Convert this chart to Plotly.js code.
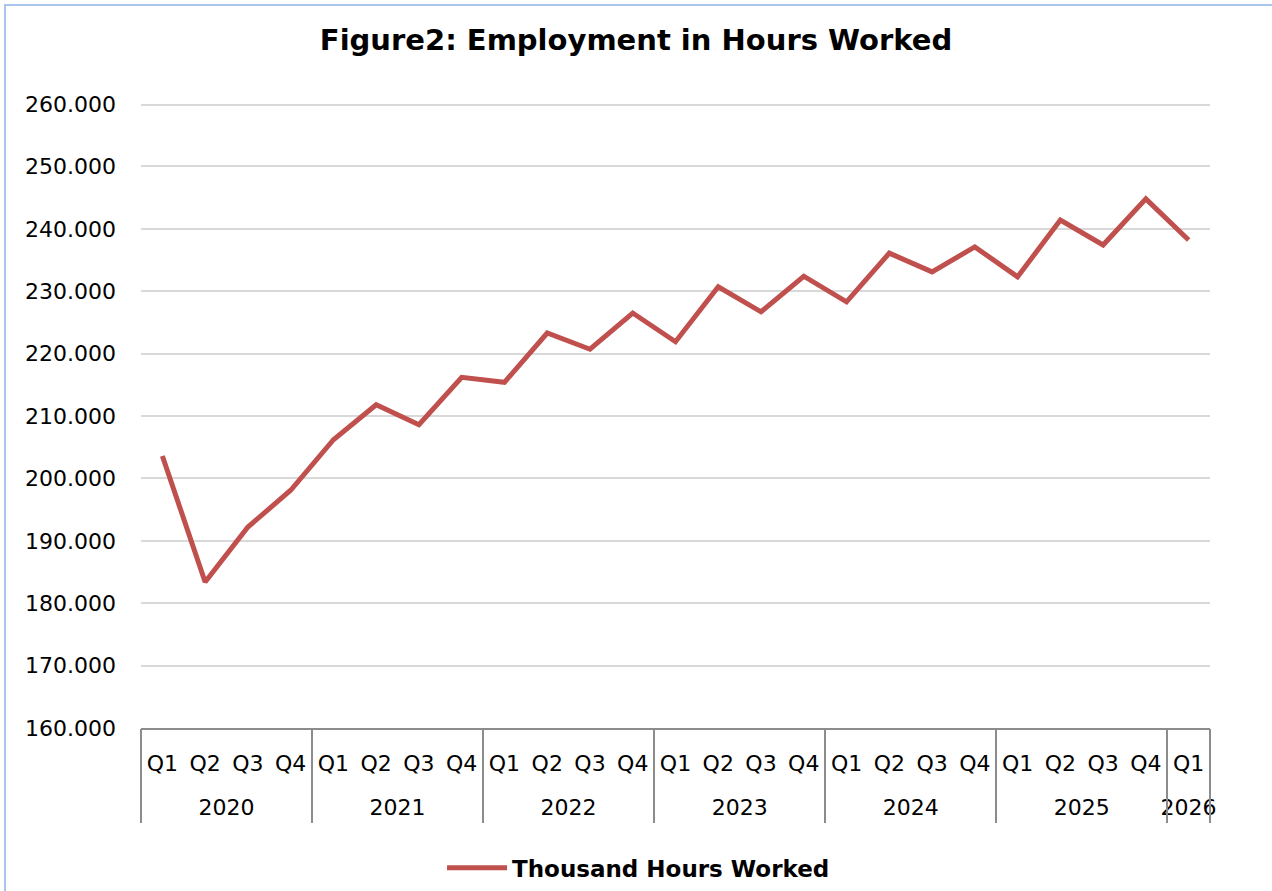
<!DOCTYPE html>
<html>
<head>
<meta charset="utf-8">
<script src="https://cdn.plot.ly/plotly-3.0.1.min.js"></script>
<style>
html, body { margin: 0; padding: 0; background: #fff; }
#frame { position: absolute; left: 4px; top: 4px; width: 1268px; height: 887px; border-left: 2px solid #a9c5ec; border-top: 2px solid #a9c5ec; box-sizing: border-box; }
#chart { position: absolute; left: 0; top: 0; width: 1272px; height: 891px; }
</style>
</head>
<body>
<div id="frame"></div>
<div id="chart"></div>
<script>
const years = ["2020","2020","2020","2020","2021","2021","2021","2021","2022","2022","2022","2022","2023","2023","2023","2023","2024","2024","2024","2024","2025","2025","2025","2025","2026"];
const quarters = ["Q1","Q2","Q3","Q4","Q1","Q2","Q3","Q4","Q1","Q2","Q3","Q4","Q1","Q2","Q3","Q4","Q1","Q2","Q3","Q4","Q1","Q2","Q3","Q4","Q1"];
const hoursWorked = [203.6,183.4,192.2,198.1,206.2,211.8,208.6,216.2,215.4,223.3,220.7,226.5,221.9,230.7,226.7,232.4,228.3,236.1,233.1,237.1,232.3,241.4,237.4,244.8,238.2];
const yRange = [160, 260];
const seriesName = "Thousand Hours Worked";
const chartTitle = "Figure2: Employment in Hours Worked";

const font = "DejaVu Sans, Verdana, sans-serif";
const idx = hoursWorked.map((_, i) => i);

// year groups derived from the category arrays
const groups = [];
years.forEach((y, i) => {
  if (!groups.length || groups[groups.length - 1].year !== y) groups.push({ year: y, start: i, end: i });
  else groups[groups.length - 1].end = i;
});
const groupCenters = groups.map(g => (g.start + g.end) / 2);
const groupLabels = groups.map(g => g.year);
const boundaries = [groups[0].start - 0.5].concat(groups.map(g => g.end + 0.5));

const xr = [-0.5, hoursWorked.length - 0.5];

Plotly.newPlot("chart", [
  {
    type: "scatter", mode: "lines",
    x: idx, y: hoursWorked,
    name: "<b>" + seriesName + "</b>",
    line: { color: "#c0504d", width: 5 },
    showlegend: true
  },
  { type: "scatter", mode: "lines", x: xr, y: [null, null], xaxis: "x2", showlegend: false, hoverinfo: "skip" },
  { type: "scatter", mode: "lines", x: xr, y: [null, null], xaxis: "x3", showlegend: false, hoverinfo: "skip" }
], {
  width: 1272, height: 891,
  paper_bgcolor: "rgba(0,0,0,0)",
  plot_bgcolor: "#fff",
  margin: { l: 141, r: 62, t: 104, b: 163, autoexpand: false },
  font: { family: font, size: 22, color: "#000" },
  title: { text: "<b>" + chartTitle + "</b>", x: 0.5, xanchor: "center", y: 0.955, yanchor: "middle",
           font: { family: font, size: 29, color: "#000" } },
  xaxis: {
    range: xr, tickmode: "array", tickvals: idx, ticktext: quarters,
    showline: true, linecolor: "#8c8c8c", linewidth: 2,
    showgrid: false, zeroline: false, ticks: "",
    ticklabelstandoff: 15,
    tickfont: { family: font, size: 22, color: "#000" }
  },
  xaxis2: {
    overlaying: "x", anchor: "y", side: "bottom", matches: "x",
    range: xr, tickmode: "array", tickvals: groupCenters, ticktext: groupLabels,
    showline: false, showgrid: false, zeroline: false, ticks: "",
    ticklabelstandoff: 64,
    tickfont: { family: font, size: 22, color: "#000" }
  },
  xaxis3: {
    overlaying: "x", anchor: "y", side: "bottom", matches: "x",
    range: xr, tickmode: "array", tickvals: boundaries, ticktext: boundaries.map(() => ""),
    showline: false, showgrid: false, zeroline: false,
    ticks: "outside", ticklen: 94, tickwidth: 2, tickcolor: "#8c8c8c"
  },
  yaxis: {
    range: yRange, dtick: 10, tick0: yRange[0],
    tickformat: ".3f",
    showline: false, zeroline: false,
    showgrid: true, gridcolor: "#d9d9d9", gridwidth: 2,
    ticks: "", ticklabelstandoff: 24,
    tickfont: { family: font, size: 22, color: "#000" }
  },
  shapes: [{
    type: "line", layer: "below", xref: "paper", x0: 0, x1: 1, yref: "y", y0: yRange[1], y1: yRange[1],
    line: { color: "#d9d9d9", width: 4 }
  }],
  legend: { orientation: "h", xref: "container", yref: "container", x: 0.502, xanchor: "center", y: 0.026, yanchor: "middle",
            font: { family: font, size: 23, color: "#000" }, itemwidth: 60 },
  showlegend: true
}, { displayModeBar: false, staticPlot: true });
</script>
</body>
</html>
